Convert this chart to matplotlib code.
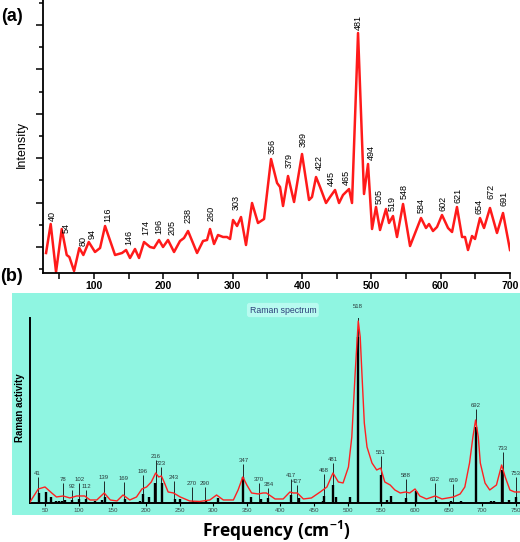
import numpy as np
from matplotlib import pyplot as plt
from matplotlib.patches import Rectangle

plt.rcParams['font.family'] = ['Liberation Sans', 'DejaVu Sans']
plt.rcParams['mathtext.default'] = 'regular'

a_freq = [30.8, 37.5, 45.2, 53.4, 60.6, 64.4, 71.2, 78.8, 84.6, 92.4, 101.4, 108.7, 115.9, 130.3,
          140.4, 146.2, 151.9, 159.1, 164.9, 172.1, 180.8, 186.5, 193.7, 199.5, 206.7, 215.4, 224.0,
          229.8, 235.6, 248.6, 257.2, 263.0, 267.3, 273.1, 278.8, 286.1, 291.8, 296.2, 300.5, 306.3,
          312.0, 319.2, 327.9, 336.5, 345.2, 355.3, 364.0, 368.3, 372.6, 379.8, 388.5, 400.0, 410.1,
          414.4, 420.2, 426.0, 434.6, 440.4, 447.6, 453.4, 459.1, 467.8, 472.1, 480.8, 489.4, 495.2,
          501.0, 506.7, 512.5, 521.1, 525.5, 531.2, 537.0, 545.7, 555.8, 571.6, 578.8, 583.2, 588.9,
          594.7, 601.9, 610.6, 616.4, 623.5, 630.8, 635.1, 639.4, 645.2, 649.5, 656.7, 662.5, 671.1,
          681.2, 689.9, 700]
a_int = [20, 49, 1, 44, 18, 16, 2, 25, 18, 31, 21, 25, 47, 18, 20, 23, 15, 24, 15, 31, 26, 25, 33,
         26, 33, 21, 32, 35, 42, 20, 32, 33, 44, 29, 38, 36, 36, 34, 53, 47, 56, 28, 70, 50, 54, 114,
         90, 86, 67, 97, 71, 119, 73, 76, 96, 86, 70, 76, 83, 70, 78, 84, 70, 240, 79, 109, 44, 66,
         43, 64, 50, 57, 36, 69, 27, 55, 45, 49, 42, 46, 58, 45, 41, 66, 36, 36, 23, 37, 34, 55, 45,
         65, 40, 60, 23]

a_labels = ['40', '54', '80', '94', '116', '146', '174', '196', '205', '238', '260', '303', '356',
            '379', '399', '422', '445', '465', '481', '494', '505', '519', '548', '584', '602', '621',
            '654', '672', '691']
a_label_freq = [40.4, 59.2, 83.7, 96.7, 120, 150.5, 175, 193.7, 212, 235.6, 268.8, 304.8, 356.3,
                381, 401, 424.5, 442.8, 463.5, 481.2, 499.5, 511.5, 529.3, 547.6, 571.6, 602.9,
                624.5, 655.7, 672, 691.2]
a_label_y = [52, 40, 27, 34, 51, 28, 38, 39, 38, 50, 52, 63, 119, 105, 126, 103, 87, 88, 243, 113,
             69, 62, 74, 60, 62, 70, 59, 74, 67]

# (b) computed Raman spectrum
b_freq = [27.7, 40, 45, 50, 60, 67, 77, 87, 97, 109, 117, 127, 138, 147, 157, 166, 176, 186, 194,
          201, 208, 214.5, 219, 223, 227, 233, 241, 251, 265, 280, 295, 305, 315, 330, 337, 344,
          350, 357, 367, 374, 379, 392, 404, 414, 419, 425, 434, 446, 459, 469, 478, 486, 493, 501,
          506, 511, 515.6, 518.5, 521, 524.6, 528.6, 536, 543, 549, 555, 563, 570, 578, 586, 592,
          600, 607, 617, 630, 640, 657, 667, 674, 681, 686, 690, 694, 697, 704, 711, 721, 728.7,
          734, 741, 748, 756]
b_int = [1, 14, 15, 16, 10, 6, 7, 5, 7, 7, 3, 3, 10, 3, 2, 8, 3, 6, 14, 16, 21, 30, 26, 27, 21, 11,
         10, 6, 2, 1.5, 3, 8, 3, 3, 13, 26, 18, 10, 9, 10, 10, 4, 4, 11, 10, 10, 4, 5, 11, 16, 30,
         21, 20, 36, 66, 130, 182, 166, 130, 80, 56, 40, 33, 35, 21, 18, 13, 10, 11, 10, 14, 7, 4,
         7, 4, 6, 9, 16, 40, 66, 83, 66, 40, 20, 13, 18, 38, 26, 13, 11, 11]

stick_freq = [41.5, 51, 59, 67, 71, 75, 80, 90, 101, 111, 124, 134, 139, 169, 191, 196, 204, 213.5,
              224, 243, 250, 269.5, 289, 306.6, 345, 356, 371, 382, 416, 427, 463, 465, 478, 483,
              504, 515.6, 549, 558, 564, 586, 602, 631, 654, 668, 690, 713, 717, 729, 739, 750]
stick_act = [10, 11, 6, 2, 2, 2, 3, 3, 4, 4, 2, 3, 6, 4, 2, 9, 6, 20, 20, 4, 4, 2, 2, 5, 26, 6, 4,
             5, 8, 5, 2, 7, 18, 6, 6, 166, 28, 3, 7, 5, 12, 3, 2, 1.5, 76, 2, 2, 33, 3, 6]

b_labels = ['41', '78', '92', '102', '112', '139', '169', '196', '216', '223', '243', '270', '290',
            '347', '370', '384', '417', '427', '468', '481', '518', '551', '588', '632', '659',
            '692', '733', '753']
b_label_freq = [39, 77, 90, 101, 111, 137, 167, 195, 214.5, 222, 241, 268, 288, 345, 368, 382,
                416, 425, 465, 478, 515.6, 549, 586, 630, 657, 690, 730, 750]
b_label_top = [26, 20, 13, 20, 13, 22, 21, 28, 43, 36, 22, 16, 16, 39, 20, 15, 24, 18, 29, 40,
               193, 47, 24, 20, 19, 94, 51, 26]

fig = plt.figure(figsize=(5.2, 5.42), dpi=100)
fig.add_artist(Rectangle((0.0231, 0.0498), 0.9769, 0.4096, transform=fig.transFigure,
                         facecolor='#8ff5e1', edgecolor='none', zorder=0))

# ---- panel (a)
ax1 = fig.add_axes([0.0827, 0.4963, 0.8981, 0.5037])
ax1.plot(a_freq, a_int, color='#ff1a1a', lw=1.8, solid_joinstyle='round')
for lab, f, y in zip(a_labels, a_label_freq, a_label_y):
    ax1.text(f, y, lab, rotation=90, ha='center', va='bottom', fontsize=6.5)
ax1.set_xlim(26.4, 700)
ax1.set_ylim(0, 273)
ax1.spines['top'].set_visible(False)
ax1.spines['right'].set_visible(False)
ax1.spines['left'].set_linewidth(1.3)
ax1.spines['bottom'].set_linewidth(1.3)
ax1.set_xticks(np.arange(100, 701, 100))
ax1.set_xticks(np.arange(50, 700, 100), minor=True)
ax1.set_xticklabels([str(v) for v in range(100, 701, 100)], fontweight='bold', fontsize=7.5)
ax1.set_yticks([26, 70.4, 114.8, 159.2, 203.6, 248])
ax1.set_yticks([3.8, 48.2, 92.6, 137, 181.4, 225.8, 270], minor=True)
ax1.set_yticklabels([])
ax1.tick_params(axis='x', which='both', length=4, width=1.1, pad=2)
ax1.tick_params(axis='y', which='major', length=5, width=1.1)
ax1.tick_params(axis='y', which='minor', length=3, width=1.1)
ax1.patch.set_alpha(0)

# ---- panel (b)
ax2 = fig.add_axes([0.0577, 0.0720, 0.9423, 0.3413])
ax2.patch.set_alpha(0)
ax2.vlines(b_label_freq, 0, b_label_top, color='#1e2a2a', lw=0.7, zorder=2)
ax2.vlines(stick_freq, 0, stick_act, color='black', lw=1.7, zorder=2)
ax2.plot(b_freq, b_int, color='#ff2020', lw=1.0, zorder=3)
for lab, f, y in zip(b_labels, b_label_freq, b_label_top):
    ax2.text(f, y + 1, lab, ha='center', va='bottom', fontsize=4.3, color='#2a3a3a',
             clip_on=False)
ax2.set_xlim(27.7, 756)
ax2.set_ylim(0, 185)
ax2.spines['top'].set_visible(False)
ax2.spines['right'].set_visible(False)
ax2.spines['left'].set_linewidth(1.4)
ax2.spines['bottom'].set_linewidth(1.4)
ax2.set_xticks(np.arange(50, 751, 50))
ax2.set_xticklabels([str(v) for v in range(50, 751, 50)], fontsize=4.5, color='#404848')
ax2.set_yticks([])
ax2.tick_params(axis='x', length=2, width=0.8, pad=1.5)

# ---- texts
fig.text(0.023, 0.969, '(a)', fontsize=13, fontweight='bold', ha='center', va='center')
fig.text(0.023, 0.489, '(b)', fontsize=13, fontweight='bold', ha='center', va='center')
fig.text(0.042, 0.7325, 'Intensity', fontsize=9, rotation=90, ha='center', va='center')
fig.text(0.038, 0.247, 'Raman activity', fontsize=7, fontweight='bold', rotation=90,
         ha='center', va='center')
fig.text(0.544, 0.428, 'Raman spectrum', fontsize=6.3, color='#2d3f7a', ha='center', va='center',
         bbox=dict(boxstyle='round,pad=0.3', facecolor='#b8fbf0', edgecolor='none'))
fig.text(0.531, 0.0203, 'Frequency (cm$^{-1}$)', fontsize=12.5, fontweight='bold',
         family=['Open Sans', 'DejaVu Sans'], ha='center', va='center')

fig.savefig('out.png', dpi=100)
